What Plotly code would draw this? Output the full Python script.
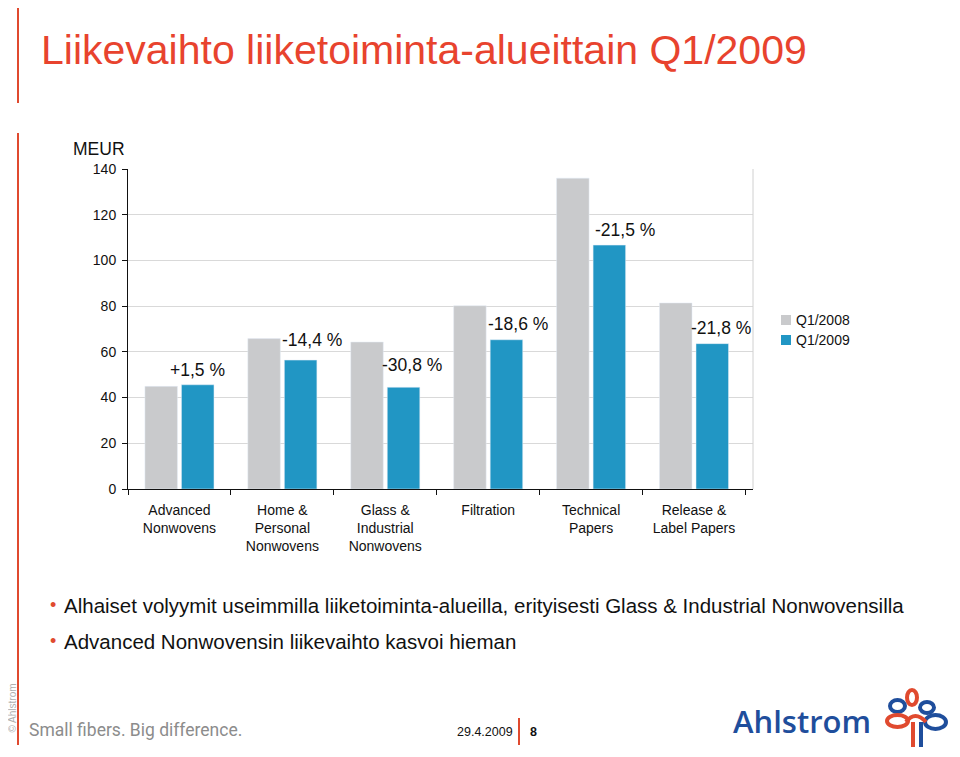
import plotly.graph_objects as go

# data
categories = ["Advanced<br>Nonwovens", "Home &<br>Personal<br>Nonwovens",
              "Glass &<br>Industrial<br>Nonwovens", "Filtration",
              "Technical<br>Papers", "Release &<br>Label Papers"]
q1_2008 = [44.9, 65.8, 64.3, 80.2, 136.0, 81.4]
q1_2009 = [45.6, 56.4, 44.5, 65.3, 106.7, 63.6]
change_labels = ["+1,5 %", "-14,4 %", "-30,8 %", "-18,6 %", "-21,5 %", "-21,8 %"]
series_names = ["Q1/2008", "Q1/2009"]
y_ticks = [0, 20, 40, 60, 80, 100, 120, 140]

bullets = [
    "Alhaiset volyymit useimmilla liiketoiminta-alueilla, erityisesti Glass & Industrial Nonwovensilla",
    "Advanced Nonwovensin liikevaihto kasvoi hieman",
]

# page offset (body margin) and plot box in page pixels
OFF = 8
W, H = 960 - 2 * OFF, 757 - 2 * OFF
X0, X1, Y0, Y1 = 128, 753, 169, 489
L, R, T, B = X0 - OFF, W - (X1 - OFF), Y0 - OFF, H - (Y1 - OFF)
PW, PH = W - L - R, H - T - B

GRAY = "#c9cacc"
BLUE = "#2196c4"
RED = "#e04a2f"
DARKBLUE = "#1f4e9c"
FONT = "Liberation Sans, Arial, sans-serif"


def px(x):
    return (x - OFF - L) / PW


def py(y):
    return (H - B - (y - OFF)) / PH


fig = go.Figure()
fig.add_trace(go.Bar(x=categories, y=q1_2008, name=series_names[0], marker_color=GRAY))
fig.add_trace(go.Bar(x=categories, y=q1_2009, name=series_names[1], marker_color=BLUE))

# change labels above the Q1/2009 bars
x_shifts = [18, 30, 27, 30, 34, 27]
y_shifts = [15, 20, 22, 16, 15, 16]
for cat, val, lab, dx, dy in zip(categories, q1_2009, change_labels, x_shifts, y_shifts):
    fig.add_annotation(x=cat, y=val, text=lab, showarrow=False, xanchor="center",
                       yanchor="middle", xshift=dx, yshift=dy,
                       font=dict(size=17.5, color="#111", family=FONT))

annots = [
    dict(x=px(39), y=py(50), text="Liikevaihto liiketoiminta-alueittain Q1/2009",
         xanchor="left", yanchor="middle", font=dict(size=41, color="#e8432e", family=FONT)),
    dict(x=px(71), y=py(149), text="MEUR", xanchor="left", yanchor="middle",
         font=dict(size=17.5, color="#111", family=FONT)),
    dict(x=px(27), y=py(730), text="Small fibers. Big difference.", xanchor="left", yanchor="middle",
         font=dict(size=17.5, color="#8c8c8c", family="Liberation Sans Narrow, Roboto, sans-serif")),
    dict(x=px(515), y=py(732), text="29.4.2009", xanchor="right", yanchor="middle",
         font=dict(size=12.5, color="#111", family=FONT)),
    dict(x=px(528), y=py(732), text="<b>8</b>", xanchor="left", yanchor="middle",
         font=dict(size=12.5, color="#111", family=FONT)),
    dict(x=px(731), y=py(721), text="Ahlstrom", xanchor="left", yanchor="middle",
         font=dict(size=31, color=DARKBLUE, family="Open Sans, sans-serif", weight=600)),
    dict(x=px(8), y=py(708), text="© Ahlstrom", textangle=-90, xanchor="left", yanchor="middle",
         xshift=-3, borderpad=0,
         font=dict(size=10, color="#b0b0b0", family=FONT)),
]
for i, b in enumerate(bullets):
    yy = 605 + 36 * i
    annots.append(dict(x=px(48), y=py(yy), text="•", xanchor="left", yanchor="middle",
                       font=dict(size=18, color=RED, family=FONT)))
    annots.append(dict(x=px(62), y=py(yy), text=b, xanchor="left", yanchor="middle",
                       font=dict(size=20.5, color="#111", family=FONT)))

# legend drawn by hand to match the tight swatch spacing
for i, (name, col) in enumerate(zip(series_names, [GRAY, BLUE])):
    yy = 320 + 20 * i
    fig.add_shape(type="rect", xref="paper", yref="paper", x0=px(781), x1=px(791),
                  y0=py(yy - 5), y1=py(yy + 5), fillcolor=col, line=dict(width=0))
    annots.append(dict(x=px(794), y=py(yy), text=name, xanchor="left", yanchor="middle",
                       font=dict(size=14, color="#111", family=FONT)))

for a in annots:
    fig.add_annotation(xref="paper", yref="paper", showarrow=False, **a)

# red side lines and page marker
shapes = [
    dict(type="line", x0=px(18), x1=px(18), y0=py(0), y1=py(103)),
    dict(type="line", x0=px(18), x1=px(18), y0=py(133), y1=py(745)),
    dict(type="line", x0=px(519), x1=px(519), y0=py(718), y1=py(745)),
]
for s in shapes:
    fig.add_shape(xref="paper", yref="paper", line=dict(color=RED, width=2), **s)

# plot right border
fig.add_shape(type="line", xref="paper", yref="paper", x0=1, x1=1, y0=0, y1=1,
              line=dict(color="#d0d0d0", width=1))

# rough logo symbol
logo = [
    ("circle", 907, 690, 917, 705, RED),
    ("circle", 890, 700, 905, 712, DARKBLUE),
    ("circle", 920, 702, 934, 713, DARKBLUE),
    ("circle", 887, 715, 908, 727, RED),
    ("circle", 925, 715, 946, 729, DARKBLUE),
]
for kind, x0, y0, x1, y1, c in logo:
    fig.add_shape(type=kind, xref="paper", yref="paper", x0=px(x0), x1=px(x1),
                  y0=py(y0), y1=py(y1), line=dict(color=c, width=4))
fig.add_shape(type="path", xref="paper", yref="paper",
              path=f"M {px(906)},{py(722)} Q {px(915)},{py(710)} {px(926)},{py(722)}",
              line=dict(color=RED, width=4))
fig.add_shape(type="line", xref="paper", yref="paper", x0=px(913), x1=px(913),
              y0=py(722), y1=py(747), line=dict(color=RED, width=4))
fig.add_shape(type="line", xref="paper", yref="paper", x0=px(921), x1=px(921),
              y0=py(722), y1=py(747), line=dict(color=DARKBLUE, width=4))

fig.update_layout(
    width=W, height=H,
    margin=dict(l=L, r=R, t=T, b=B),
    paper_bgcolor="white", plot_bgcolor="white",
    barmode="group", bargap=0.29, bargroupgap=0.11,
    font=dict(family=FONT, size=14, color="#111"),
    showlegend=False,
)
fig.update_xaxes(showline=True, linecolor="#111", linewidth=1, ticks="outside",
                 tickson="boundaries", ticklen=5, tickcolor="#111",
                 ticklabelstandoff=8, tickfont=dict(size=14, color="#111"))
fig.update_yaxes(range=[0, 140], tickvals=y_ticks, showline=True, linecolor="#111",
                 linewidth=1, ticks="outside", ticklen=5, tickcolor="#111",
                 ticklabelstandoff=3,
                 showgrid=True, gridcolor="#d9d9d9", gridwidth=1, zeroline=False,
                 tickfont=dict(size=14, color="#111"))

fig.write_html("out.html")
